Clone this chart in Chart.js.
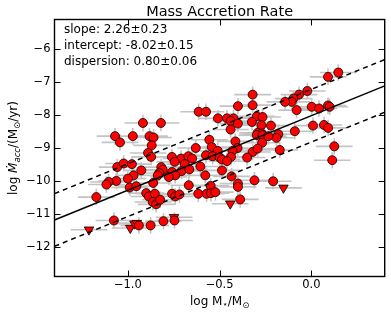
<!DOCTYPE html>
<html>
<head>
<meta charset="utf-8">
<script src="https://cdn.jsdelivr.net/npm/chart.js@4.4.1/dist/chart.umd.min.js"></script>
<style>
  html, body { margin: 0; padding: 0; background: #fff; }
  #chart { display: block; }
</style>
</head>
<body>
<canvas id="chart" width="391" height="316"></canvas>
<script>
// detections (log M*, log Macc)
const detX = [0.147, 0.091, -0.32, -0.022, -0.067, -0.098, -0.107, -0.143, -0.32, -0.40,
    0.002, 0.042, 0.091, 0.10, -0.08, -0.614, -0.574, -0.297, -0.266, -0.509,
    -0.46, -0.424, -0.44, -0.324, -0.918, -0.82, -0.40, -0.272, -0.22, 0.009,
    0.069, 0.092, -0.44, -0.09, -0.293, -0.27, -0.297, -0.266, -0.18, -0.19,
    -0.234, -1.07, -0.973, -0.882, -0.86, -1.043, -0.556, -0.414, -0.268, -0.87,
    -0.543, -0.402, 0.125, -0.172, -0.63, -0.51, -0.89, -0.43, -0.32, -0.293,
    -0.873, -0.76, -0.71, -0.67, -0.65, -0.574, -0.538, -0.50, -0.487, -0.438,
    -0.46, -0.35, -0.745, -0.69, -0.605, -1.058, -1.023, -0.978, -0.927, -0.818,
    -0.81, -0.828, -0.837, -0.759, -0.707, -0.665, -0.742, -0.777, -0.578, -0.487,
    -0.435, -0.969, -1.0, -1.063, -1.105, -1.117, -0.862, -0.668, -0.549, -0.40,
    -0.40, -0.31, -0.208, -0.99, -0.954, -1.172, -0.90, -0.886, -0.853, -0.864,
    -0.846, -0.824, -0.759, -0.742, -0.719, -0.616, -0.571, -0.547, -0.523, -0.388,
    -1.076, -0.94, -0.876, -0.806, -0.746, 0.114];
const detY = [-6.71, -6.84, -7.38, -7.27, -7.38, -7.50, -7.60, -7.60, -7.70, -7.73,
    -7.75, -7.80, -7.71, -7.75, -7.85, -7.90, -7.90, -8.04, -8.06, -8.10,
    -8.10, -8.10, -8.18, -8.21, -8.24, -8.24, -8.26, -8.31, -8.32, -8.32,
    -8.30, -8.39, -8.44, -8.49, -8.54, -8.56, -8.61, -8.61, -8.58, -8.69,
    -8.64, -8.64, -8.64, -8.64, -8.68, -8.83, -8.75, -8.80, -8.84, -8.92,
    -8.97, -9.00, -8.95, -9.06, -9.00, -9.09, -9.15, -9.09, -9.12, -9.02,
    -9.27, -9.27, -9.32, -9.25, -9.32, -9.22, -9.25, -9.29, -9.35, -9.27,
    -9.40, -9.29, -9.42, -9.49, -9.56, -9.58, -9.47, -9.49, -9.68, -9.58,
    -9.66, -9.76, -9.83, -9.73, -9.70, -9.65, -9.83, -9.88, -9.83, -9.68,
    -9.86, -9.83, -9.93, -10.0, -10.03, -10.11, -10.06, -10.13, -10.15, -10.08,
    -10.18, -9.98, -10.01, -10.20, -10.16, -10.49, -10.37, -10.47, -10.39, -10.64,
    -10.71, -10.57, -10.39, -10.47, -10.41, -10.39, -10.39, -10.37, -10.34, -10.56,
    -11.20, -11.35, -11.35, -11.22, -11.20, -9.37];

// upper limits
const limX = [-0.152, -0.442, -1.212, -0.987, -0.964, -0.951, -0.748];
const limY = [-10.21, -10.69, -11.48, -11.43, -11.30, -11.28, -11.10];

const errX = 0.1;
const errY = 0.25;

const fitSlope = 2.26, fitSlopeErr = 0.23;
const fitIntercept = -8.02, fitInterceptErr = 0.15;
const fitDispersion = 0.80, fitDispersionErr = 0.06;
const lineX = [-1.4, 0.4];

const xTicks = [-1.0, -0.5, 0.0];
const yTicks = [-12, -11, -10, -9, -8, -7, -6];

const FONT = "'DejaVu Sans', sans-serif";

function toPts(xs, ys){
    return xs.map((x, i) => ({x: x, y: ys[i]}));
}
function fitLine(offset){
    return lineX.map(x => ({x: x, y: fitIntercept + fitSlope * x + offset}));
}
function minus(v){
    return String(v).replace('-', '\u2212');
}

function drawRich(ctx, parts, x0, y0){
    let total = 0;
    for(let p of parts){
        ctx.font = p.font;
        total += ctx.measureText(p.t).width;
    }
    let x = x0 - total / 2;
    for(let p of parts){
        ctx.font = p.font;
        ctx.fillText(p.t, x, y0 + (p.dy || 0));
        x += ctx.measureText(p.t).width;
    }
}

const errorBars = {
    id: 'errorBars',
    beforeDatasetsDraw(chart){
        const ctx = chart.ctx;
        const xs = chart.scales.x, ys = chart.scales.y;
        const area = chart.chartArea;
        ctx.save();
        ctx.beginPath();
        ctx.rect(area.left, area.top, area.right - area.left, area.bottom - area.top);
        ctx.clip();
        ctx.strokeStyle = '#c4c4c4';
        ctx.lineWidth = 1.6;
        ctx.beginPath();
        detX.forEach((x, i) => {
            const px = xs.getPixelForValue(x), py = ys.getPixelForValue(detY[i]);
            ctx.moveTo(xs.getPixelForValue(x - errX), py);
            ctx.lineTo(xs.getPixelForValue(x + errX), py);
            ctx.moveTo(px, ys.getPixelForValue(detY[i] - errY));
            ctx.lineTo(px, ys.getPixelForValue(detY[i] + errY));
        });
        limX.forEach((x, i) => {
            const py = ys.getPixelForValue(limY[i]);
            ctx.moveTo(xs.getPixelForValue(x - errX), py);
            ctx.lineTo(xs.getPixelForValue(x + errX), py);
        });
        ctx.stroke();
        ctx.restore();
    }
};

const frameAndText = {
    id: 'frameAndText',
    afterDraw(chart){
        const ctx = chart.ctx;
        const a = chart.chartArea;
        const xs = chart.scales.x, ys = chart.scales.y;
        ctx.save();
        // inward ticks on all four sides
        ctx.strokeStyle = '#000';
        ctx.lineWidth = 1;
        ctx.beginPath();
        for(let v of xTicks){
            const px = Math.round(xs.getPixelForValue(v)) + 0.5;
            ctx.moveTo(px, a.bottom); ctx.lineTo(px, a.bottom - 6);
            ctx.moveTo(px, a.top); ctx.lineTo(px, a.top + 6);
        }
        for(let v of yTicks){
            const py = Math.round(ys.getPixelForValue(v)) + 0.5;
            ctx.moveTo(a.left, py); ctx.lineTo(a.left + 6, py);
            ctx.moveTo(a.right, py); ctx.lineTo(a.right - 6, py);
        }
        ctx.stroke();
        // frame
        ctx.lineWidth = 1.4;
        ctx.strokeRect(a.left, a.top, a.right - a.left, a.bottom - a.top);

        ctx.fillStyle = '#000';
        ctx.textBaseline = 'alphabetic';
        // title
        ctx.textAlign = 'left';
        drawRich(ctx, [{t: 'Mass Accretion Rate', font: '14.5px ' + FONT}], (a.left + a.right) / 2, 16);

        // fit results
        ctx.font = '12px ' + FONT;
        ctx.fillText('slope: ' + fitSlope.toFixed(2) + '\u00b1' + fitSlopeErr.toFixed(2), 64, 32.5);
        ctx.fillText('intercept: ' + fitIntercept.toFixed(2) + '\u00b1' + fitInterceptErr.toFixed(2), 64, 48.8);
        ctx.fillText('dispersion: ' + fitDispersion.toFixed(2) + '\u00b1' + fitDispersionErr.toFixed(2), 64, 65);

        // x label
        const big = '12px ' + FONT, small = '8.5px ' + FONT;
        drawRich(ctx, [
            {t: 'log M', font: big},
            {t: '\u22c6', font: small, dy: 2},
            {t: '/M', font: big},
            {t: '\u2299', font: small, dy: 3}
        ], (a.left + a.right) / 2, 305);

        // y label
        ctx.translate(17, (a.top + a.bottom) / 2);
        ctx.rotate(-Math.PI / 2);
        drawRich(ctx, [
            {t: 'log ', font: big},
            {t: '\u1e40', font: 'italic ' + big},
            {t: 'acc', font: 'italic ' + small, dy: 2.5},
            {t: '/(M', font: big},
            {t: '\u2299', font: small, dy: 3},
            {t: '/yr)', font: big}
        ], 0, 0);
        ctx.restore();
    }
};

const chart = new Chart(document.getElementById('chart'), {
    type: 'scatter',
    data: {
        datasets: [
            {
                data: fitLine(0),
                showLine: true,
                borderColor: '#000',
                borderWidth: 1.5,
                pointRadius: 0,
                order: 0
            },
            {
                data: fitLine(fitDispersion),
                showLine: true,
                borderColor: '#000',
                borderWidth: 1.5,
                borderDash: [5, 4],
                pointRadius: 0,
                order: 0
            },
            {
                data: fitLine(-fitDispersion),
                showLine: true,
                borderColor: '#000',
                borderWidth: 1.5,
                borderDash: [5, 4],
                pointRadius: 0,
                order: 0
            },
            {
                data: toPts(detX, detY),
                backgroundColor: '#ff0000',
                borderColor: '#000',
                borderWidth: 0.8,
                pointRadius: 4.5,
                order: 1
            },
            {
                data: toPts(limX, limY),
                pointStyle: 'triangle',
                rotation: 180,
                backgroundColor: '#ff0000',
                borderColor: '#000',
                borderWidth: 0.8,
                pointRadius: 5.5,
                order: 1
            }
        ]
    },
    options: {
        responsive: false,
        animation: false,
        events: [],
        layout: {padding: {left: 0, right: 5.5, top: 19.5, bottom: 0}},
        plugins: {legend: {display: false}, tooltip: {enabled: false}},
        scales: {
            x: {
                type: 'linear',
                min: -1.4,
                max: 0.4,
                afterBuildTicks: s => { s.ticks = xTicks.map(v => ({value: v})); },
                afterFit: s => { s.height = 39.5; },
                grid: {display: false, drawTicks: false},
                border: {display: false},
                ticks: {
                    padding: 2,
                    color: '#000',
                    font: {family: FONT, size: 11.5},
                    callback: v => minus(v.toFixed(1))
                }
            },
            y: {
                type: 'linear',
                min: -12.9,
                max: -5.1,
                afterBuildTicks: s => { s.ticks = yTicks.map(v => ({value: v})); },
                afterFit: s => { s.width = 54.5; },
                grid: {display: false, drawTicks: false},
                border: {display: false},
                ticks: {
                    padding: 4,
                    color: '#000',
                    font: {family: FONT, size: 11.5},
                    callback: v => minus(v)
                }
            }
        }
    },
    plugins: [errorBars, frameAndText]
});
</script>
</body>
</html>
